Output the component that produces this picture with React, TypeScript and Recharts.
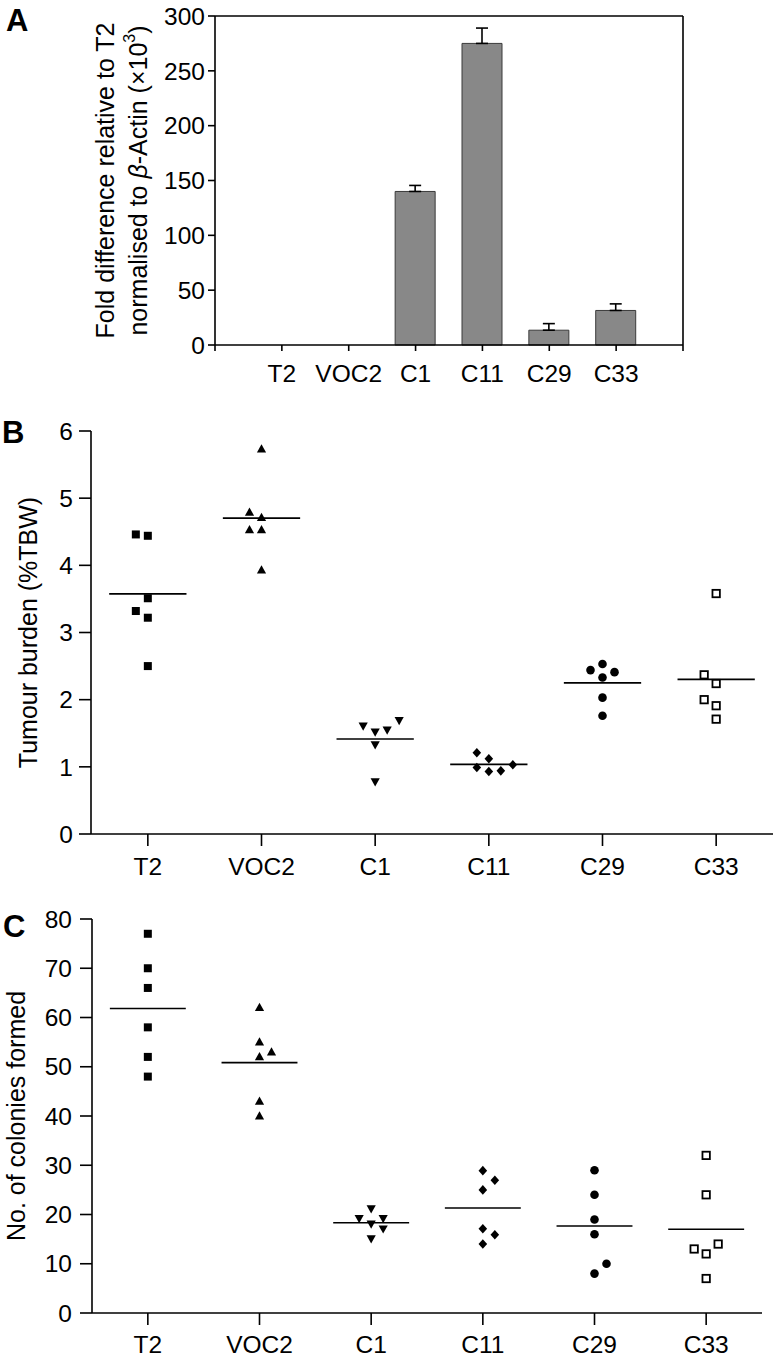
import React from 'react';
import {
  ComposedChart,
  Bar,
  ErrorBar,
  ScatterChart,
  Scatter,
  XAxis,
  YAxis,
  ReferenceLine,
} from 'recharts';

const FONT = '"Liberation Sans", Arial, Helvetica, sans-serif';

const groups = ['T2', 'VOC2', 'C1', 'C11', 'C29', 'C33'];

// A: fold difference relative to T2 (x10^3), bar = mean, error = SEM (upper only)
// T2 / VOC2 are ~0 on this scale and show no bar or error bar
const foldValues = [0, 0, 140, 275, 13.5, 31.5];
const foldErrors = [null, null, 5.5, 14, 6, 6];
const foldTicks = [0, 50, 100, 150, 200, 250, 300];

// B: tumour burden (%TBW), one point per animal
const burdenT2 = [4.44, 4.46, 3.51, 3.22, 3.32, 2.5];
const burdenVOC2 = [5.73, 4.71, 4.79, 4.53, 4.53, 3.93];
const burdenC1 = [1.52, 1.61, 1.55, 1.69, 1.33, 0.78];
const burdenC11 = [1.12, 1.21, 0.93, 0.99, 0.94, 1.03];
const burdenC29 = [2.53, 2.33, 2.44, 2.41, 2.03, 1.76];
const burdenC33 = [3.58, 2.24, 2.37, 1.91, 2.0, 1.71];
const burdenTicks = [0, 1, 2, 3, 4, 5, 6];

// C: number of colonies formed
const coloniesT2 = [77, 70, 66, 58, 52, 48];
const coloniesVOC2 = [62, 55, 52, 53, 43, 40];
const coloniesC1 = [21.2, 18.1, 19.2, 19.2, 17.1, 15.1];
const coloniesC11 = [28.9, 25, 26.95, 17.1, 14, 15.9];
const coloniesC29 = [29, 24, 19, 16, 8, 10];
const coloniesC33 = [32, 24, 12, 14, 13, 7];
const colonyTicks = [0, 10, 20, 30, 40, 50, 60, 70, 80];

const mean = (arr: number[]) => arr.reduce((a, b) => a + b, 0) / arr.length;

// simple dot-plot spreading: put a point in the first column where it doesn't collide
function beeswarm(values: number[], pxPerUnit: number, gapPx: number, sides: number[]) {
  const placed: { v: number; c: number }[] = [];
  return values.map((v) => {
    const c =
      sides.find((s) => placed.every((p) => p.c !== s || Math.abs(p.v - v) * pxPerUnit >= gapPx)) ?? 0;
    placed.push({ v, c });
    return c;
  });
}

// marker shapes
const filledSquare = (p: any) => <rect x={p.cx - 4} y={p.cy - 4} width={8} height={8} fill="#000" />;
const openSquare = (p: any) => (
  <rect x={p.cx - 3.7} y={p.cy - 3.7} width={7.4} height={7.4} fill="#fff" stroke="#000" strokeWidth={1.8} />
);
const triangleUp = (p: any) => (
  <polygon points={`${p.cx},${p.cy - 4.8} ${p.cx + 4.6},${p.cy + 3.4} ${p.cx - 4.6},${p.cy + 3.4}`} fill="#000" />
);
const triangleDown = (p: any) => (
  <polygon points={`${p.cx},${p.cy + 4.8} ${p.cx + 4.6},${p.cy - 3.4} ${p.cx - 4.6},${p.cy - 3.4}`} fill="#000" />
);
const diamond = (p: any) => (
  <polygon
    points={`${p.cx},${p.cy - 4.8} ${p.cx + 4.3},${p.cy} ${p.cx},${p.cy + 4.8} ${p.cx - 4.3},${p.cy}`}
    fill="#000"
  />
);
const circle = (p: any) => <circle cx={p.cx} cy={p.cy} r={4.3} fill="#000" />;

const groupShapes = [filledSquare, triangleUp, triangleDown, diamond, circle, openSquare];

const axisStroke = { stroke: '#000', strokeWidth: 1.6 };
const tickStyle = { fill: '#000', fontSize: 24.5, fontFamily: FONT };

// ---------- Panel A ----------
const foldData = groups.map((g, i) => ({
  pos: i + 1,
  name: g,
  value: foldValues[i],
  err: foldErrors[i] == null ? null : [0, foldErrors[i]],
}));

const foldTitle = (props: any) => {
  const { x, y, height } = props.viewBox;
  const cy = y + height / 2;
  const x1 = x - 50;
  const x2 = x - 17;
  return (
    <g fontFamily={FONT} fontSize={25} fill="#000">
      <text x={x1} y={cy} transform={`rotate(-90 ${x1} ${cy})`} textAnchor="middle" dominantBaseline="central">
        Fold difference relative to T2
      </text>
      <text x={x2} y={cy} transform={`rotate(-90 ${x2} ${cy})`} textAnchor="middle" dominantBaseline="central">
        normalised to <tspan fontStyle="italic">β</tspan>-Actin (×10
        <tspan dy={-9} fontSize={16}>3</tspan>
        <tspan dy={9}>)</tspan>
      </text>
    </g>
  );
};

const FoldChart = () => (
  <ComposedChart
    width={773}
    height={400}
    data={foldData}
    margin={{ top: 16, right: 90, bottom: 15, left: 155 }}
  >
    <XAxis
      type="number"
      dataKey="pos"
      domain={[0, 7]}
      ticks={[0, 1, 2, 3, 4, 5, 6, 7]}
      interval={0}
      tickFormatter={(v: number) => groups[v - 1] ?? ''}
      axisLine={axisStroke}
      tickLine={axisStroke}
      tickSize={6}
      tickMargin={14}
      height={40}
      tick={tickStyle}
    />
    <YAxis
      type="number"
      domain={[0, 300]}
      ticks={foldTicks}
      interval={0}
      axisLine={axisStroke}
      tickLine={axisStroke}
      tickSize={7}
      tickMargin={3}
      width={60}
      tick={tickStyle}
      label={foldTitle}
    />
    <ReferenceLine y={300} stroke="#000" strokeWidth={1.6} />
    <ReferenceLine x={7} stroke="#000" strokeWidth={1.6} />
    <Bar dataKey="value" barSize={40} fill="#888888" stroke="#3a3a3a" strokeWidth={1} isAnimationActive={false}>
      <ErrorBar dataKey="err" width={6} stroke="#000" strokeWidth={1.6} direction="y" isAnimationActive={false} />
    </Bar>
  </ComposedChart>
);

// ---------- Panels B and C ----------
type PanelProps = {
  series: number[][];
  ticks: number[];
  width: number;
  height: number;
  margin: { top: number; right: number; bottom: number; left: number };
  gapPx: number;
  sides: number[];
  tickMarginX: number;
  tickMarginY: number;
  title: string;
  titleOffset: number;
};

const ScatterPanel = (props: PanelProps) => {
  const { series, ticks, width, height, margin, gapPx, sides } = props;
  const yAxisWidth = 60;
  const plotW = width - margin.left - margin.right - yAxisWidth;
  const plotH = height - margin.top - margin.bottom - 40;
  const yMax = ticks[ticks.length - 1];
  const pxPerUnit = plotH / yMax;
  const bandPx = plotW / groups.length;
  const step = 12 / bandPx;
  const halfLine = 0.34;

  const titleLabel = (lp: any) => {
    const { x, y, height: h } = lp.viewBox;
    const tx = x + props.titleOffset;
    const cy = y + h / 2;
    return (
      <text
        x={tx}
        y={cy}
        transform={`rotate(-90 ${tx} ${cy})`}
        textAnchor="middle"
        dominantBaseline="central"
        fontFamily={FONT}
        fontSize={25}
        fill="#000"
      >
        {props.title}
      </text>
    );
  };

  return (
    <ScatterChart width={width} height={height} margin={margin}>
      <XAxis
        type="number"
        dataKey="x"
        domain={[-0.5, groups.length - 0.5]}
        allowDataOverflow
        ticks={groups.map((_, i) => i)}
        interval={0}
        tickFormatter={(v: number) => groups[v] ?? ''}
        axisLine={axisStroke}
        tickLine={axisStroke}
        tickSize={12}
        tickMargin={props.tickMarginX}
        height={40}
        tick={tickStyle}
      />
      <YAxis
        type="number"
        dataKey="y"
        domain={[0, yMax]}
        allowDataOverflow
        ticks={ticks}
        interval={0}
        axisLine={axisStroke}
        tickLine={axisStroke}
        tickSize={12}
        tickMargin={props.tickMarginY}
        width={yAxisWidth}
        tick={tickStyle}
        label={titleLabel}
      />
      {series.map((vals, gi) => {
        const cols = beeswarm(vals, pxPerUnit, gapPx, sides);
        const pts = vals.map((v, i) => ({ x: gi + cols[i] * step, y: v }));
        return (
          <Scatter
            key={groups[gi]}
            name={groups[gi]}
            data={pts}
            shape={groupShapes[gi]}
            isAnimationActive={false}
          />
        );
      })}
      {series.map((vals, gi) => (
        <ReferenceLine
          key={'m' + gi}
          segment={[
            { x: gi - halfLine, y: mean(vals) },
            { x: gi + halfLine, y: mean(vals) },
          ]}
          stroke="#000"
          strokeWidth={1.6}
        />
      ))}
    </ScatterChart>
  );
};

export default function App() {
  return (
    <div style={{ position: 'absolute', left: 0, top: 0, width: 773, height: 1365, background: '#fff' }}>
      <div style={{ position: 'absolute', left: 0, top: 0 }}>
        <FoldChart />
      </div>
      <div style={{ position: 'absolute', left: 0, top: 400 }}>
        <ScatterPanel
          series={[burdenT2, burdenVOC2, burdenC1, burdenC11, burdenC29, burdenC33]}
          ticks={burdenTicks}
          width={773}
          height={490}
          margin={{ top: 31, right: 0, bottom: 16, left: 31 }}
          gapPx={11.75}
          sides={[0, -1, 1, 2, -2, 3, -3]}
          tickMarginX={12}
          tickMarginY={6}
          title="Tumour burden (%TBW)"
          titleOffset={-3}
        />
      </div>
      <div style={{ position: 'absolute', left: 0, top: 890 }}>
        <ScatterPanel
          series={[coloniesT2, coloniesVOC2, coloniesC1, coloniesC11, coloniesC29, coloniesC33]}
          ticks={colonyTicks}
          width={773}
          height={475}
          margin={{ top: 29, right: 11, bottom: 12, left: 32 }}
          gapPx={10}
          sides={[0, 1, -1, 2, -2, 3, -3]}
          tickMarginX={11}
          tickMarginY={8}
          title="No. of colonies formed"
          titleOffset={-16}
        />
      </div>
      <svg
        width={773}
        height={1365}
        style={{ position: 'absolute', left: 0, top: 0, pointerEvents: 'none' }}
      >
        <g fontFamily={FONT} fontWeight="bold" fontSize={31} fill="#000">
          <text x={6} y={31}>A</text>
          <text x={2} y={443}>B</text>
          <text x={3} y={937}>C</text>
        </g>
      </svg>
    </div>
  );
}
